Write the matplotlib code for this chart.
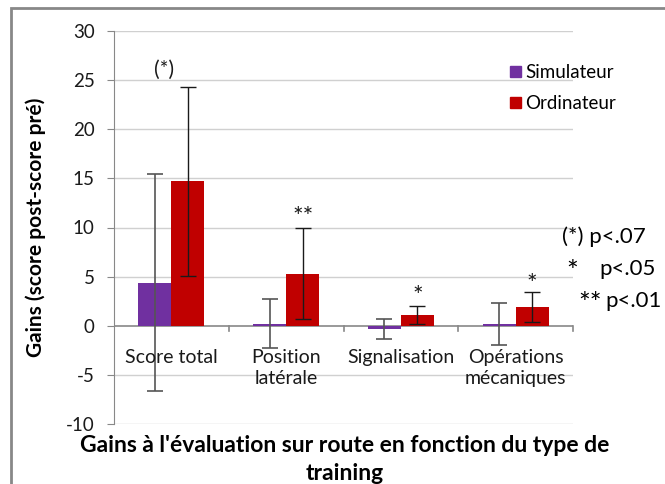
import matplotlib
matplotlib.use("Agg")
import matplotlib.pyplot as plt
from matplotlib.patches import Rectangle
import numpy as np

categories = ["Score total", "Position\nlatérale", "Signalisation", "Opérations\nmécaniques"]
series_names = ["Simulateur", "Ordinateur"]
simulateur = [4.4, 0.2, -0.3, 0.2]
simulateur_err = [11.0, 2.5, 1.0, 2.15]
ordinateur = [14.7, 5.3, 1.1, 1.9]
ordinateur_err = [9.6, 4.65, 0.9, 1.5]
signif = ["(*)", "**", "*", "*"]
signif_y = [25.4, 10.3, 2.2, 3.4]
yticks = [-10, -5, 0, 5, 10, 15, 20, 25, 30]
note_stars = ["(*)", "*", "**"]
note_p = ["p<.07", "p<.05", "p<.01"]

FONT = "Lato"
plt.rcParams["font.family"] = [FONT, "DejaVu Sans"]

fig = plt.figure(figsize=(6.65, 4.84), dpi=100)
ax = fig.add_axes([114/665, 1-424/484, (573-114)/665, (424-31)/484])

x = np.arange(len(categories))
w = 0.2875
purple = "#7030A0"
red = "#C00000"

ax.bar(x + w/2, ordinateur, w, color=red, zorder=2)
ax.errorbar(x + w/2, ordinateur, yerr=ordinateur_err, fmt="none", ecolor="#1a1a1a",
            elinewidth=1, capsize=5.5, capthick=1, zorder=3)
ax.bar(x - w/2, simulateur, w, color=purple, zorder=2)
ax.errorbar(x - w/2, simulateur, yerr=simulateur_err, fmt="none", ecolor="#555555",
            elinewidth=1.2, capsize=5.5, capthick=1.2, zorder=3)

ax.set_xlim(-0.5, 3.5)
ax.set_ylim(-10, 30)
ax.set_yticks(yticks)
ax.set_yticklabels([str(t) for t in yticks], fontsize=13.5, color="#1a1a1a")
ax.tick_params(axis="y", length=5, color="#888888", pad=9)
ax.set_xticks([])
for t in yticks:
    if t != 0:
        ax.axhline(t, color="#d0d0d0", lw=1, zorder=0)
ax.axhline(0, color="#888888", lw=1.2, zorder=1)
for b in [0.5, 1.5, 2.5, 3.5]:
    ax.plot([b, b], [0, -0.55], color="#888888", lw=1.2, clip_on=False, zorder=1)

for s in ["top", "right", "bottom"]:
    ax.spines[s].set_visible(False)
ax.spines["left"].set_color("#888888")

for i, c in enumerate(categories):
    ax.annotate(c, xy=(i, 0), xytext=(0, -17), textcoords="offset points",
                ha="center", va="top", fontsize=14, color="#1a1a1a", linespacing=1.25)

for i, (s, yv) in enumerate(zip(signif, signif_y)):
    xpos = i - 0.06 if i == 0 else i + w/2
    fs = 15 if i == 0 else 18
    ax.text(xpos, yv, s, ha="center", va="baseline", fontsize=fs, color="#1a1a1a")

ax.set_ylabel("Gains (score post-score pré)", fontsize=15, fontweight="bold")
ax.yaxis.set_label_coords(-0.148, 0.5)

handles = [Rectangle((0, 0), 1, 1, color=purple), Rectangle((0, 0), 1, 1, color=red)]
fig.legend(handles, series_names, loc="upper left", bbox_to_anchor=(501/665, 1-55/484),
           frameon=False, fontsize=13.5, handlelength=0.55, handleheight=0.55,
           handletextpad=0.25, labelspacing=0.75, borderpad=0)

star_x = [562, 566, 578]
p_x = [596, 599, 605]
for k in range(3):
    yc = 1 - (237 + k * 32) / 484
    if k == 0:
        fig.text(star_x[k]/665, yc, note_stars[k] + " " + note_p[k], fontsize=16,
                 ha="left", va="center", color="#000000")
    else:
        fig.text(star_x[k]/665, yc - 4/484, note_stars[k], fontsize=20, ha="left",
                 va="center", color="#000000")
        fig.text(p_x[k]/665, yc, note_p[k], fontsize=16, ha="left", va="center",
                 color="#000000")

fig.text(345/665, 1-445/484, "Gains à l'évaluation sur route en fonction du type de",
         ha="center", va="center", fontsize=16.5, fontweight="bold")
fig.text(345/665, 1-474/484, "training", ha="center", va="center", fontsize=16.5,
         fontweight="bold")

fig.patches.append(Rectangle((11/665, -0.1), 1.2, 1 - 8/484 + 0.1,
                             transform=fig.transFigure, fill=False,
                             edgecolor="#888888", lw=2))

fig.savefig("out.png", dpi=100)
